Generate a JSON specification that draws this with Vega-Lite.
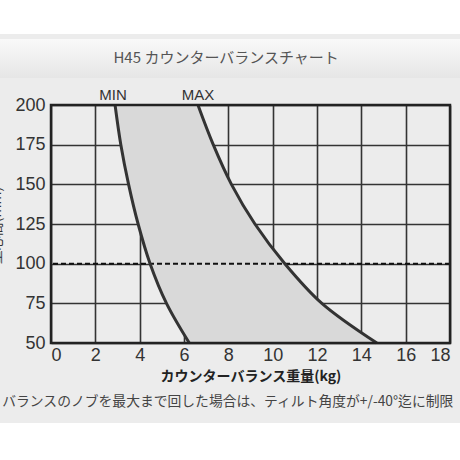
{
  "$schema": "https://vega.github.io/schema/vega-lite/v6.json",
  "width": 399,
  "height": 238,
  "autosize": {"type": "none"},
  "padding": {"left": 51, "top": 105, "right": 10, "bottom": 117},
  "background": "#ececec",
  "config": {
    "view": {"stroke": null},
    "axis": {
      "zindex": 1,
      "grid": true,
      "gridColor": "#333333",
      "gridWidth": 1.6,
      "gridOpacity": 1,
      "ticks": false,
      "domain": false,
      "labelOverlap": false,
      "labelFont": "Liberation Sans",
      "labelFontSize": 18,
      "labelColor": "#333333"
    },
    "axisY": {
      "labelPadding": 6,
      "titleFont": "Noto Sans CJK JP",
      "titleFontSize": 14,
      "titleFontWeight": "normal",
      "titleColor": "#333333",
      "titleX": -48,
      "titleY": 120
    },
    "axisX": {
      "labelPadding": 3,
      "titleFont": "Noto Sans CJK JP",
      "titleFontSize": 14,
      "titleFontWeight": "bold",
      "titleColor": "#222222",
      "titlePadding": 5
    }
  },
  "datasets": {
    "curves": [
      {"h": 50, "min": 6.24, "max": 14.7},
      {"h": 75, "min": 5.21, "max": 12.22},
      {"h": 100, "min": 4.47, "max": 10.55},
      {"h": 125, "min": 3.93, "max": 9.2},
      {"h": 150, "min": 3.5, "max": 8.14},
      {"h": 175, "min": 3.15, "max": 7.32},
      {"h": 200, "min": 2.89, "max": 6.63}
    ]
  },
  "layer": [
    {
      "data": {"name": "curves"},
      "mark": {"type": "area", "orient": "horizontal", "interpolate": "catmull-rom", "color": "#d9d9d9", "opacity": 1},
      "encoding": {
        "y": {
          "field": "h", "type": "quantitative",
          "title": "重心高(mm)",
          "scale": {"domain": [50, 200], "nice": false, "zero": false},
          "axis": {"values": [50, 75, 100, 125, 150, 175, 200]}
        },
        "x": {
          "field": "min", "type": "quantitative",
          "title": "カウンターバランス重量(kg)",
          "scale": {"domain": [0, 18], "nice": false, "zero": false},
          "axis": {"values": [0, 2, 4, 6, 8, 10, 12, 14, 16, 18]}
        },
        "x2": {"field": "max"}
      }
    },
    {
      "data": {"values": [{}]},
      "mark": {"type": "rect", "color": "#ffffff"},
      "encoding": {
        "x": {"datum": -3, "type": "quantitative", "title": "カウンターバランス重量(kg)", "axis": {"values": [0, 2, 4, 6, 8, 10, 12, 14, 16, 18]}},
        "x2": {"datum": 19},
        "y": {"datum": 244.8, "type": "quantitative", "title": "重心高(mm)", "axis": {"values": [50, 75, 100, 125, 150, 175, 200]}},
        "y2": {"datum": 275}
      }
    },
    {
      "data": {"values": [{}]},
      "mark": {"type": "rect", "color": "#ffffff"},
      "encoding": {
        "x": {"datum": -3, "type": "quantitative", "title": "カウンターバランス重量(kg)", "axis": {"values": [0, 2, 4, 6, 8, 10, 12, 14, 16, 18]}},
        "x2": {"datum": 19},
        "y": {"datum": -0.4, "type": "quantitative", "title": "重心高(mm)", "axis": {"values": [50, 75, 100, 125, 150, 175, 200]}},
        "y2": {"datum": -30}
      }
    },
    {
      "data": {"values": [{}]},
      "mark": {
        "type": "rect",
        "color": {
          "gradient": "linear",
          "x1": 0, "y1": 0, "x2": 0, "y2": 1,
          "stops": [
            {"offset": 0, "color": "#f9f9f9"},
            {"offset": 1, "color": "#e6e6e6"}
          ]
        }
      },
      "encoding": {
        "x": {"datum": -3, "type": "quantitative", "title": "カウンターバランス重量(kg)", "axis": {"values": [0, 2, 4, 6, 8, 10, 12, 14, 16, 18]}},
        "x2": {"datum": 19},
        "y": {"datum": 241.6, "type": "quantitative", "title": "重心高(mm)", "axis": {"values": [50, 75, 100, 125, 150, 175, 200]}},
        "y2": {"datum": 217.0}
      }
    },
    {
      "data": {"values": [{}]},
      "mark": {"type": "rule", "color": "#111111", "strokeWidth": 2, "strokeDash": [5, 3]},
      "encoding": {
        "y": {"datum": 100, "type": "quantitative", "title": "重心高(mm)", "axis": {"values": [50, 75, 100, 125, 150, 175, 200]}}
      }
    },
    {
      "data": {"name": "curves"},
      "mark": {"type": "line", "interpolate": "catmull-rom", "color": "#333333", "strokeWidth": 3},
      "encoding": {
        "x": {"field": "min", "type": "quantitative", "title": "カウンターバランス重量(kg)", "axis": {"values": [0, 2, 4, 6, 8, 10, 12, 14, 16, 18]}},
        "y": {"field": "h", "type": "quantitative", "title": "重心高(mm)", "axis": {"values": [50, 75, 100, 125, 150, 175, 200]}},
        "order": {"field": "h", "type": "quantitative"}
      }
    },
    {
      "data": {"name": "curves"},
      "mark": {"type": "line", "interpolate": "catmull-rom", "color": "#333333", "strokeWidth": 3},
      "encoding": {
        "x": {"field": "max", "type": "quantitative", "title": "カウンターバランス重量(kg)", "axis": {"values": [0, 2, 4, 6, 8, 10, 12, 14, 16, 18]}},
        "y": {"field": "h", "type": "quantitative", "title": "重心高(mm)", "axis": {"values": [50, 75, 100, 125, 150, 175, 200]}},
        "order": {"field": "h", "type": "quantitative"}
      }
    },
    {
      "data": {"values": [{}]},
      "mark": {"type": "rect", "filled": false, "stroke": "#222222", "strokeWidth": 2.5},
      "encoding": {
        "x": {"datum": 0, "type": "quantitative", "title": "カウンターバランス重量(kg)", "axis": {"values": [0, 2, 4, 6, 8, 10, 12, 14, 16, 18]}},
        "x2": {"datum": 18},
        "y": {"datum": 50, "type": "quantitative", "title": "重心高(mm)", "axis": {"values": [50, 75, 100, 125, 150, 175, 200]}},
        "y2": {"datum": 200}
      }
    },
    {
      "data": {"name": "curves"},
      "transform": [{"filter": "datum.h == 200"}],
      "mark": {"type": "text", "font": "Liberation Sans", "fontSize": 15, "color": "#333333", "baseline": "bottom", "dy": -2, "dx": -2, "text": "MIN"},
      "encoding": {
        "x": {"field": "min", "type": "quantitative", "title": "カウンターバランス重量(kg)", "axis": {"values": [0, 2, 4, 6, 8, 10, 12, 14, 16, 18]}},
        "y": {"field": "h", "type": "quantitative", "title": "重心高(mm)", "axis": {"values": [50, 75, 100, 125, 150, 175, 200]}}
      }
    },
    {
      "data": {"name": "curves"},
      "transform": [{"filter": "datum.h == 200"}],
      "mark": {"type": "text", "font": "Liberation Sans", "fontSize": 15, "color": "#333333", "baseline": "bottom", "dy": -2, "text": "MAX"},
      "encoding": {
        "x": {"field": "max", "type": "quantitative", "title": "カウンターバランス重量(kg)", "axis": {"values": [0, 2, 4, 6, 8, 10, 12, 14, 16, 18]}},
        "y": {"field": "h", "type": "quantitative", "title": "重心高(mm)", "axis": {"values": [50, 75, 100, 125, 150, 175, 200]}}
      }
    },
    {
      "data": {"values": [{}]},
      "mark": {"type": "text", "font": "Noto Sans CJK JP", "fontSize": 15, "color": "#555555", "align": "center", "baseline": "middle", "text": "H45 カウンターバランスチャート"},
      "encoding": {
        "x": {"datum": 7.9, "type": "quantitative", "title": "カウンターバランス重量(kg)", "axis": {"values": [0, 2, 4, 6, 8, 10, 12, 14, 16, 18]}},
        "y": {"datum": 229.6, "type": "quantitative", "title": "重心高(mm)", "axis": {"values": [50, 75, 100, 125, 150, 175, 200]}}
      }
    },
    {
      "data": {"values": [{}]},
      "mark": {"type": "text", "font": "Noto Sans CJK JP", "fontSize": 13.8, "color": "#444444", "align": "left", "baseline": "middle", "text": "バランスのノブを最大まで回した場合は、ティルト角度が+/-40°迄に制限"},
      "encoding": {
        "x": {"datum": -2.2, "type": "quantitative", "title": "カウンターバランス重量(kg)", "axis": {"values": [0, 2, 4, 6, 8, 10, 12, 14, 16, 18]}},
        "y": {"datum": 12.8, "type": "quantitative", "title": "重心高(mm)", "axis": {"values": [50, 75, 100, 125, 150, 175, 200]}}
      }
    }
  ]
}
